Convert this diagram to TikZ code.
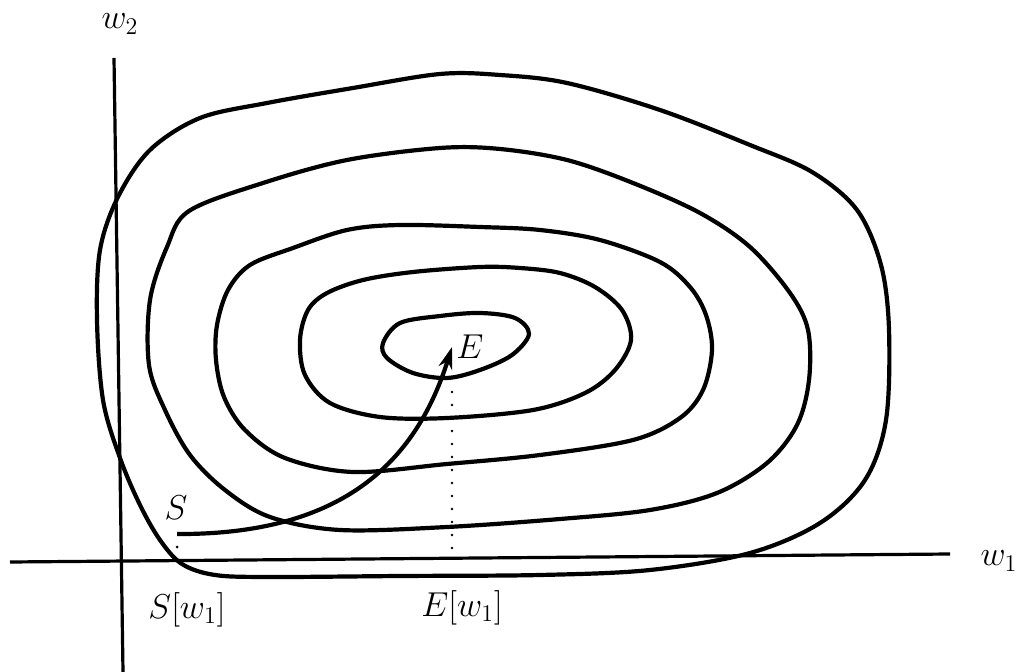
\documentclass[tikz,border=0pt]{standalone}
\usetikzlibrary{arrows.meta}
\begin{document}
\begin{tikzpicture}[x=0.5pt,y=-0.5pt,
  axis/.style={line width=1.6pt},
  contour/.style={line width=2.1pt, line join=round},
  flow/.style={line width=2.1pt, -{Stealth[length=11pt,width=7pt]}},
  proj/.style={line width=1.3pt, line cap=round, dash pattern=on 0pt off 6.5pt},
  lbl/.style={inner sep=0pt, font=\fontsize{18.5}{22}\selectfont}]
\useasboundingbox (0,0) rectangle (1020,672);
% axes
\coordinate (xl) at (10,562);
\coordinate (xr) at (950,554);
\coordinate (yt) at (114,58);
\coordinate (yb) at (123,672);
\draw[axis] (xl) -- (xr);
\draw[axis] (yt) -- (yb);
\node[lbl] (w2) at (120,24) {$w_2$};
\node[lbl] (w1) at (999,561) {$w_1$};
% contours
\draw[contour] plot[smooth cycle, tension=0.55] coordinates {
 (500,75) (440,74) (353,88) (267,103) (200,118) (150,150) (118,197) (100,250)
 (97,320) (103,400) (120,458) (140,505) (160,540) (182,564) (215,575) (270,577)
 (400,576) (540,575) (650,570) (750,553) (820,523) (865,480) (886,420) (889,330)
 (881,265) (857,210) (812,172) (750,145) (660,110) (567,83)};
\draw[contour] plot[smooth cycle, tension=0.55] coordinates {
 (500,149) (440,148) (347,160) (263,183) (189,211) (167,247) (150,300) (149,365)
 (165,410) (190,455) (225,490) (270,517) (340,530) (447,527) (560,519) (650,510)
 (717,493) (767,463) (797,425) (809,380) (808,330) (790,293) (750,247) (700,213)
 (633,183) (567,160)};
\draw[contour] plot[smooth cycle, tension=0.55] coordinates {
 (480,227) (400,225) (347,230) (293,248) (250,265) (228,290) (217,325) (216,360)
 (224,397) (245,430) (285,458) (353,472) (447,464) (540,455) (633,440) (680,418)
 (703,390) (712,350) (706,315) (690,287) (660,262) (600,240) (540,230)};
\draw[contour] plot[smooth cycle, tension=0.55] coordinates {
 (480,267) (413,272) (363,280) (327,293) (308,310) (300,340) (305,375) (330,403)
 (380,417) (447,418) (533,410) (585,393) (615,370) (631,340) (622,310) (595,287)
 (560,273) (520,268)};
\draw[contour] plot[smooth cycle, tension=0.55] coordinates {
 (383,343) (400,323) (440,316) (480,313) (515,318) (529,334) (512,355)
 (480,370) (447,378) (413,373) (387,358)};
% projections
\coordinate (ep) at (452,392);
\coordinate (ex) at (452,548);
\draw[proj] (ep) -- (ex);
\coordinate (sp) at (177,547);
\fill (sp) circle (1.5);
% path S -> E
\coordinate (s0) at (177,534);
\coordinate (e0) at (452,347);
\draw[flow] (s0) .. controls (350,535) and (418,455) .. (e0);
% labels
\node[lbl] (S) at (176,508) {$S$};
\node[lbl] (E) at (470,347) {$E$};
\node[lbl] (Sw) at (187,610) {$S[w_1]$};
\node[lbl] (Ew) at (462,608) {$E[w_1]$};
\end{tikzpicture}
\end{document}
